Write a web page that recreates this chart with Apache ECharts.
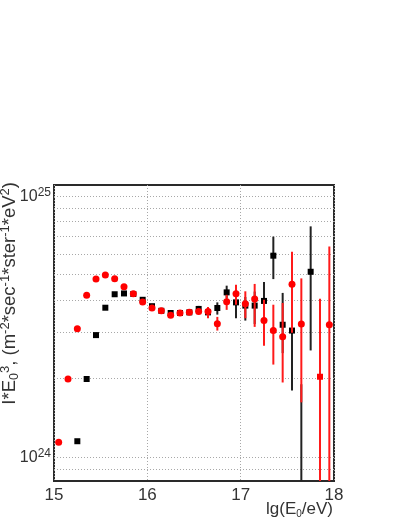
<!DOCTYPE html>
<html>
<head>
<meta charset="utf-8">
<script src="https://cdn.jsdelivr.net/npm/echarts@6/dist/echarts.min.js"></script>
<style>
html,body{margin:0;padding:0;background:#fff;}
#chart{width:402px;height:520px;}
</style>
</head>
<body>
<div id="chart"></div>
<script>
// ---- data ----
const xTicks = [15, 16, 17, 18];
const yGridValues = [8e23, 9e23, 1e24, 2e24, 3e24, 4e24, 5e24, 6e24, 7e24, 8e24, 9e24, 1e25];

// red series (circles)
const redE = [15.05, 15.15, 15.25, 15.35, 15.45, 15.55, 15.65, 15.75, 15.85, 15.95,
              16.05, 16.15, 16.25, 16.35, 16.45, 16.55, 16.65, 16.75, 16.85, 16.95,
              17.05, 17.15, 17.25, 17.35, 17.45, 17.55, 17.65, 17.85, 17.95];
const redV = [1.14e24, 1.99e24, 3.10e24, 4.16e24, 4.80e24, 4.98e24, 4.82e24, 4.49e24, 4.22e24, 3.92e24,
              3.72e24, 3.63e24, 3.49e24, 3.56e24, 3.58e24, 3.61e24, 3.61e24, 3.24e24, 3.93e24, 4.22e24,
              3.86e24, 4.03e24, 3.33e24, 3.05e24, 2.89e24, 4.59e24, 3.23e24, 2.03e24, 3.21e24];
const redLo = [null, null, null, null, null, null, null, null, null, null,
               null, null, null, null, null, 3.55e24, 3.40e24, 3.05e24, 3.66e24, 3.83e24,
               3.40e24, 3.15e24, 2.67e24, 2.26e24, 1.93e24, 2.99e24, 1.62e24, 5.0e23, 5.0e23];
const redHi = [null, null, null, null, null, null, null, null, null, null,
               null, null, null, null, null, 3.67e24, 3.75e24, 3.44e24, 4.18e24, 4.57e24,
               4.31e24, 4.60e24, 4.00e24, 3.83e24, 3.89e24, 6.11e24, 4.83e24, 4.04e24, 6.40e24];
const redSquareAt = [17.85];

// black series (squares)
const blackE = [15.25, 15.35, 15.45, 15.55, 15.65, 15.75, 15.85, 15.95, 16.05, 16.15,
                16.25, 16.35, 16.45, 16.55, 16.65, 16.75, 16.85, 16.95, 17.05, 17.15,
                17.25, 17.35, 17.45, 17.55, 17.65, 17.75];
const blackV = [1.15e24, 1.99e24, 2.93e24, 3.73e24, 4.20e24, 4.23e24, 4.21e24, 4.00e24, 3.78e24, 3.63e24,
                3.56e24, 3.56e24, 3.58e24, 3.69e24, 3.58e24, 3.72e24, 4.27e24, 3.91e24, 3.80e24, 3.80e24,
                3.96e24, 5.90e24, 3.21e24, 3.05e24, 7.0e23, 5.12e24];
const blackLo = [null, null, null, null, null, null, null, null, null, null,
                 null, null, null, 3.56e24, 3.48e24, 3.51e24, 4.06e24, 3.40e24, 3.33e24, 3.23e24,
                 3.36e24, 4.80e24, 2.50e24, 1.80e24, 4.0e23, 2.56e24];
const blackHi = [null, null, null, null, null, null, null, null, null, null,
                 null, null, null, 3.79e24, 3.68e24, 3.91e24, 4.53e24, 4.30e24, 4.10e24, 4.30e24,
                 4.68e24, 6.98e24, 4.25e24, 3.90e24, 1.9e24, 7.64e24];

// ---- build ----
const FONT = 'Liberation Sans';
function errData(E, lo, hi) {
  const out = [];
  E.forEach((x, i) => { if (lo[i] != null && hi[i] != null) out.push([x, lo[i], hi[i]]); });
  return out;
}
function errSeries(E, lo, hi, color, z) {
  return {
    type: 'custom', z: z, clip: true, silent: true,
    encode: { x: 0, y: [1, 2] },
    data: errData(E, lo, hi),
    renderItem: function (params, api) {
      const x = api.value(0);
      const p1 = api.coord([x, api.value(1)]);
      const p2 = api.coord([x, api.value(2)]);
      return { type: 'line', shape: { x1: p1[0], y1: p1[1], x2: p2[0], y2: p2[1] },
               style: { stroke: color, lineWidth: 2, opacity: 1 } };
    }
  };
}
const redData = redE.map((x, i) => ({
  value: [x, redV[i]],
  symbol: redSquareAt.indexOf(x) >= 0 ? 'rect' : 'circle',
  symbolSize: redSquareAt.indexOf(x) >= 0 ? 6 : 7
}));
const blackData = blackE.map((x, i) => [x, blackV[i]]);

const chart = echarts.init(document.getElementById('chart'), null, { renderer: 'canvas' });
chart.setOption({
  backgroundColor: '#fff',
  animation: false,
  grid: { left: 54, right: 68, top: 185, bottom: 39, show: true, borderColor: '#2a2a2a', borderWidth: 2, backgroundColor: 'transparent' },
  xAxis: {
    type: 'value', min: xTicks[0], max: xTicks[xTicks.length - 1], interval: 1,
    axisLine: { show: false }, axisTick: { show: false },
    splitLine: { show: true, lineStyle: { color: '#a8a8a8', type: [1, 2], width: 1 } },
    axisLabel: { color: '#333', fontSize: 17, fontFamily: FONT, margin: 6 }
  },
  yAxis: {
    type: 'log', logBase: 10, min: 8.1e23, max: 1.1e25,
    axisLine: { show: false }, axisTick: { show: false }, splitLine: { show: false },
    axisLabel: {
      margin: 3, fontFamily: FONT, color: '#333', showMinLabel: true, showMaxLabel: true,
      formatter: function (v) {
        const e = Math.log10(v);
        if (Math.abs(e - Math.round(e)) > 1e-6) return '';
        return '{b|10}{s|' + Math.round(e) + '}';
      },
      rich: {
        b: { fontSize: 16, fontFamily: FONT, color: '#333', lineHeight: 18, verticalAlign: 'bottom' },
        s: { fontSize: 12, fontFamily: FONT, color: '#333', lineHeight: 18, verticalAlign: 'top', padding: [0, 0, 6, 0] }
      }
    }
  },
  graphic: [
    {
      type: 'text', x: 10, y: 182, rotation: Math.PI / 2,
      style: {
        text: 'I*E{sub|0}{sup|3}, (m{sup|-2}*sec{sup|-1}*ster{sup|-1}*eV{sup|2})',
        align: 'right', verticalAlign: 'middle',
        fontSize: 18.5, fontFamily: FONT, fill: '#333',
        rich: {
          sub: { fontSize: 12.5, fontFamily: FONT, fill: '#333', verticalAlign: 'bottom', lineHeight: 23 },
          sup: { fontSize: 13, fontFamily: FONT, fill: '#333', verticalAlign: 'top', lineHeight: 23 }
        }
      }
    },
    {
      type: 'text', x: 333, y: 509,
      style: {
        text: 'lg(E{sub|0}/eV)', align: 'right', verticalAlign: 'middle',
        fontSize: 17, fontFamily: FONT, fill: '#333',
        rich: { sub: { fontSize: 10, fontFamily: FONT, fill: '#333', verticalAlign: 'bottom', lineHeight: 20 } }
      }
    }
  ],
  series: [
    {
      type: 'line', data: [], silent: true, z: 1,
      markLine: {
        silent: true, symbol: 'none', label: { show: false }, z: 1,
        lineStyle: { color: '#a8a8a8', type: [1, 2], width: 1 },
        data: yGridValues.map(v => ({ yAxis: v }))
      }
    },
    errSeries(blackE, blackLo, blackHi, '#222', 3),
    { type: 'scatter', z: 4, clip: true, symbol: 'rect', symbolSize: 6, itemStyle: { color: '#000', opacity: 1 }, data: blackData },
    errSeries(redE, redLo, redHi, '#ff1a1a', 5),
    { type: 'scatter', z: 6, clip: true, symbol: 'circle', itemStyle: { color: '#ff0000', opacity: 1 }, data: redData }
  ]
});
</script>
</body>
</html>
